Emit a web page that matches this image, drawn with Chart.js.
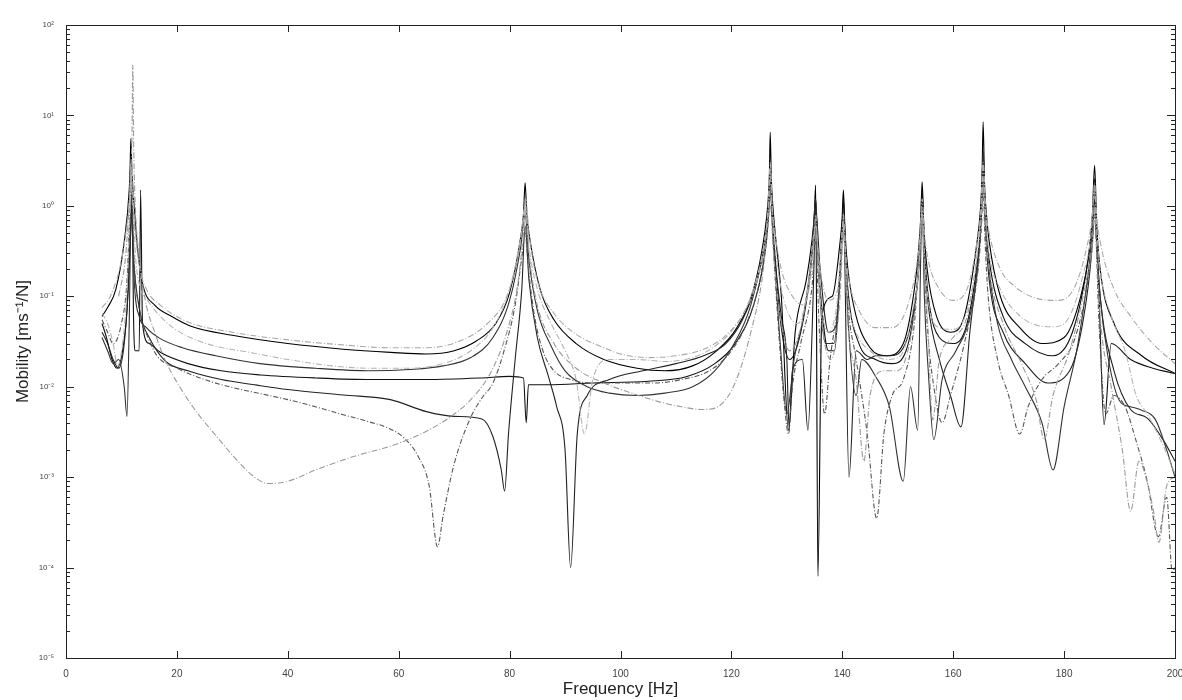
<!DOCTYPE html>
<html>
<head>
<meta charset="utf-8">
<script src="https://cdn.jsdelivr.net/npm/chart.js@4"></script>
<style>
  body { margin:0; background:#fff; }
  #wrap { position:relative; width:1182px; height:700px; }
</style>
</head>
<body>
<div id="wrap"><canvas id="c"></canvas></div>
<script>
// tick labels
const xTicks = [0, 20, 40, 60, 80, 100, 120, 140, 160, 180, 200];
const yTicks = [1e-5, 1e-4, 1e-3, 1e-2, 1e-1, 1, 1e1, 1e2];
const supers = {'-':'⁻','0':'⁰','1':'¹','2':'²','3':'³','4':'⁴','5':'⁵'};

// series: [frequency Hz, mobility]
const s1 = [[6.5,0.075],[8,0.1],[10,0.25],[11.2,0.8],[11.5,1.3],[11.7,3],[11.9,1.4],[12.3,0.7],[13.2,0.22],[14.5,0.12],[17,0.08],[22,0.052],[30,0.04],[40,0.033],[50,0.029],[58,0.027],[65,0.027],[71,0.032],[76,0.05],[79.5,0.1],[81.5,0.28],[82.5,0.7],[82.9,1.2],[83.5,0.5],[85,0.15],[88,0.065],[92,0.038],[97,0.027],[100,0.023],[105,0.021],[110,0.022],[115,0.026],[119,0.037],[122.5,0.07],[125,0.18],[126.4,0.6],[126.8,1.2],[127,2.5],[127.25,1.2],[127.7,0.6],[129,0.2],[131,0.1],[133,0.08],[134.5,0.2],[134.9,0.4],[135.2,0.8],[135.5,0.4],[136,0.2],[137.5,0.09],[139.2,0.12],[139.8,0.3],[140.2,0.8],[140.6,0.3],[141.2,0.15],[143,0.07],[146,0.045],[149,0.045],[151.5,0.07],[153.3,0.2],[154,0.45],[154.4,1.2],[154.8,0.5],[155.5,0.25],[157.5,0.12],[160,0.09],[162.5,0.12],[164.3,0.4],[165,0.9],[165.4,3],[165.8,1],[166.5,0.5],[168.5,0.2],[171,0.13],[175,0.095],[179,0.09],[182,0.13],[184.3,0.4],[185.1,0.8],[185.5,1.8],[185.9,0.75],[186.7,0.35],[189,0.12],[192,0.06],[196,0.03],[200,0.018]];

const s2 = [[6.5,0.06],[7.5,0.075],[9,0.12],[10.5,0.4],[11.4,1.5],[11.55,2.5],[11.7,5.5],[11.9,2.3],[12.2,1.2],[13,0.3],[13.9,0.13],[16,0.08],[19,0.06],[22.4,0.047],[30,0.037],[40,0.03],[50,0.026],[58.5,0.024],[65,0.023],[70,0.025],[74,0.032],[77.5,0.05],[80,0.11],[82,0.45],[82.5,0.8],[82.8,1.8],[83.1,0.8],[83.6,0.45],[85.5,0.12],[88,0.055],[92,0.03],[97,0.02],[103,0.016],[108,0.015],[113,0.017],[117,0.024],[121,0.045],[124,0.12],[126,0.5],[126.6,1.1],[126.85,2.2],[127,6.5],[127.2,2],[127.5,0.95],[127.9,0.5],[129,0.1],[130.3,0.0033],[131.5,0.04],[133.5,0.15],[134.5,0.4],[134.95,0.8],[135.2,1.7],[135.6,0.00008],[136.3,0.06],[138.2,0.1],[139.6,0.4],[139.95,0.7],[140.2,1.5],[140.5,0.5],[141,0.2],[142.5,0.06],[145,0.027],[148,0.022],[151,0.03],[153,0.12],[153.8,0.35],[154.15,0.75],[154.4,1.85],[154.7,0.6],[155.3,0.2],[157,0.06],[159.5,0.04],[162,0.06],[164.3,0.4],[164.9,0.9],[165.2,2.2],[165.4,8.5],[165.65,1.8],[166,0.8],[166.5,0.4],[168.5,0.1],[172,0.045],[176,0.03],[180,0.035],[183,0.1],[184.5,0.3],[185.1,0.8],[185.5,2.8],[185.9,0.6],[186.5,0.2],[189,0.05],[194,0.022],[200,0.014]];

const s3 = [[6.5,0.05],[7.3,0.035],[8.3,0.02],[9.2,0.016],[10.2,0.025],[11,0.07],[11.6,0.4],[11.9,1.2],[12.2,0.05],[12.5,0.025],[13.2,0.025],[13.45,1.5],[13.8,0.05],[15,0.03],[17,0.024],[22,0.018],[28,0.015],[35,0.0135],[45,0.0125],[55,0.012],[65,0.012],[75,0.0125],[80,0.013],[82.5,0.0125],[83,0.004],[83.4,0.0105],[87,0.0105],[95,0.011],[105,0.0115],[112,0.013],[117,0.018],[121,0.032],[124,0.08],[126.2,0.35],[126.7,0.8],[127,2],[127.35,0.7],[127.8,0.3],[129,0.045],[130.5,0.02],[132.5,0.04],[134.3,0.2],[134.85,0.5],[135.2,1.2],[135.5,0.35],[136,0.12],[137.5,0.025],[138.6,0.025],[139.6,0.2],[139.95,0.5],[140.2,1.2],[140.55,0.35],[141,0.12],[143,0.03],[146,0.02],[149,0.018],[151.5,0.025],[153.3,0.1],[154,0.35],[154.4,1.5],[154.8,0.35],[155.5,0.1],[157.5,0.035],[160,0.03],[162.5,0.05],[164.5,0.3],[165.1,0.9],[165.4,4],[165.8,0.7],[166.5,0.25],[169,0.06],[173,0.03],[178,0.022],[181.5,0.04],[184.3,0.25],[185.1,0.7],[185.5,2],[185.8,0.5],[186.3,0.1],[187.2,0.0038],[188.5,0.03],[192,0.02],[196,0.016],[200,0.014]];

const s4 = [[9.5,0.1],[10.8,0.3],[11.6,2],[11.9,6],[12.05,36],[12.2,5],[12.5,1],[13.3,0.25],[14.3,0.09],[16,0.04],[18,0.019],[20.5,0.01],[23.5,0.0053],[27,0.0029],[31,0.0015],[34,0.001],[36.5,0.00085],[40,0.0009],[45,0.0012],[52,0.0017],[58.5,0.0022],[64,0.003],[69,0.0045],[73,0.0072],[76.5,0.014],[79.5,0.04],[81.5,0.14],[82.5,0.5],[82.9,0.9],[83.5,0.3],[85,0.08],[88,0.03],[92,0.016],[97,0.011],[102,0.0085],[107,0.0068],[111,0.006],[114.5,0.0056],[117,0.0058],[119.5,0.008],[121.5,0.015],[123.5,0.04],[125.5,0.15],[126.6,0.6],[127,1],[127.6,0.3],[128.8,0.06],[130.5,0.025],[132.5,0.045],[134.5,0.25],[135.2,0.6],[136.2,0.06],[138,0.02],[139.6,0.1],[140.2,0.5],[141,0.05],[142.5,0.012],[143.9,0.0015],[145,0.008],[147.5,0.015],[150,0.015],[152.5,0.04],[153.8,0.2],[154.4,0.8],[154.8,0.2],[155.4,0.05],[156.3,0.0043],[157.5,0.02],[160,0.035],[162.5,0.06],[164.5,0.35],[165.1,0.8],[165.4,2],[165.8,0.6],[166.5,0.2],[169,0.05],[172.5,0.017],[175,0.007],[176.4,0.0026],[178,0.008],[181,0.025],[184,0.15],[185.1,0.4],[185.5,1],[185.9,0.3],[186.5,0.06],[188.5,0.01],[190.5,0.002],[192,0.00042],[193.5,0.0015],[195,0.00087],[196.2,0.0004],[197.1,0.00019],[198.5,0.0008],[200,0.001]];

const s5 = [[6.5,0.04],[7.5,0.03],[8.5,0.02],[9.5,0.016],[10.5,0.03],[11.2,0.12],[11.7,0.8],[12.3,0.2],[13.5,0.06],[15,0.035],[18,0.019],[22,0.015],[28,0.012],[34,0.0105],[40,0.0093],[50,0.0081],[58.5,0.0072],[65,0.0053],[70,0.0047],[75,0.0044],[77,0.0028],[78.5,0.0012],[79.1,0.0007],[79.8,0.003],[81,0.02],[82.2,0.12],[82.8,0.6],[83.5,0.15],[85,0.035],[87,0.013],[88.5,0.006],[90,0.002],[91,0.0001],[92.2,0.003],[94,0.008],[98,0.012],[104,0.015],[110,0.018],[115,0.022],[119,0.03],[122,0.055],[124.5,0.14],[126.3,0.5],[126.75,1],[127,2.5],[127.35,0.9],[127.8,0.3],[129,0.06],[130,0.02],[130.4,0.0035],[131,0.015],[132.8,0.02],[133.8,0.0033],[134.6,0.05],[134.95,0.3],[135.2,0.9],[136,0.2],[137.5,0.04],[139,0.05],[140.2,0.7],[141.2,0.001],[142.5,0.025],[144.5,0.02],[146,0.022],[148.5,0.022],[151,0.027],[153,0.08],[154,0.3],[154.4,1.1],[154.8,0.3],[155.5,0.08],[157.5,0.02],[159.5,0.008],[161.4,0.0036],[163,0.04],[164.6,0.3],[165.1,0.9],[165.4,2.5],[165.8,0.6],[166.5,0.15],[169,0.04],[173,0.018],[177,0.011],[181,0.015],[184,0.09],[185.1,0.4],[185.5,1.2],[185.9,0.35],[186.5,0.1],[189,0.015],[192,0.0056],[195,0.0045],[198,0.0025],[200,0.0015]];

const s6 = [[6.5,0.055],[7.5,0.04],[8.5,0.03],[10,0.05],[11,0.15],[11.5,0.8],[11.8,2],[12.3,0.25],[13.5,0.06],[14.8,0.035],[16.4,0.022],[20,0.016],[25,0.012],[30,0.0098],[35,0.0084],[40,0.0072],[45,0.006],[50,0.0049],[54,0.0042],[58.5,0.0034],[61,0.0027],[63.5,0.0017],[65.5,0.0008],[67,0.00017],[68,0.00037],[70,0.0014],[73,0.0046],[75,0.0075],[77,0.011],[79,0.025],[81,0.08],[82.3,0.3],[82.8,0.5],[83.4,0.2],[84.5,0.06],[86,0.025],[88,0.015],[91,0.012],[95,0.011],[100,0.011],[106,0.011],[111,0.012],[116,0.015],[120,0.025],[123,0.055],[125.5,0.2],[126.6,0.8],[127,1.5],[127.7,0.25],[128.6,0.035],[129.6,0.006],[130.3,0.003],[131,0.01],[132.5,0.03],[134.5,0.12],[135.2,0.4],[135.8,0.05],[136.8,0.005],[137.8,0.02],[139.5,0.12],[140.2,0.5],[141,0.08],[142.5,0.02],[144.5,0.003],[146.2,0.00035],[147.5,0.003],[149,0.008],[151,0.012],[153,0.05],[154.4,0.7],[155.3,0.05],[156.5,0.01],[158,0.004],[159.5,0.008],[162,0.03],[164.5,0.2],[165.1,0.6],[165.4,1.5],[165.75,0.4],[166.3,0.1],[168,0.02],[170,0.008],[172,0.003],[173.5,0.006],[176,0.012],[179,0.018],[182,0.035],[184.5,0.18],[185.15,0.4],[185.5,0.8],[186.3,0.05],[187.5,0.005],[189,0.008],[191,0.006],[193,0.0025],[195,0.0009],[197,0.00022],[198.5,0.0006],[199.5,0.00009],[200,0.0001]];

const s7 = [[6.5,0.065],[7.5,0.05],[8.5,0.03],[9.3,0.017],[10.2,0.03],[11,0.12],[11.6,1],[11.9,2.5],[12.5,0.3],[13.5,0.12],[14.7,0.09],[17,0.06],[20,0.042],[24,0.032],[27,0.028],[33,0.024],[40,0.02],[48,0.017],[55,0.016],[62,0.016],[68,0.018],[73,0.025],[77,0.045],[80,0.12],[82,0.45],[82.8,1],[83.5,0.35],[85,0.12],[87.5,0.05],[90,0.025],[92,0.012],[93.5,0.003],[95,0.012],[98,0.02],[103,0.02],[108,0.019],[113,0.021],[117,0.028],[120.5,0.045],[123.5,0.1],[125.8,0.35],[126.6,0.9],[127,3],[127.35,1],[127.8,0.4],[129,0.12],[130.5,0.06],[132,0.05],[133.8,0.12],[135.2,0.6],[136,0.1],[137.5,0.04],[139,0.08],[140.2,0.6],[141,0.1],[142.5,0.04],[145,0.025],[148,0.02],[150.5,0.022],[152.5,0.06],[153.9,0.25],[154.4,0.9],[154.8,0.3],[155.5,0.09],[157.5,0.045],[160,0.043],[162.5,0.07],[164.5,0.35],[165.05,1],[165.4,3],[165.8,0.9],[166.5,0.3],[168.5,0.12],[171.5,0.065],[175,0.048],[178,0.046],[181,0.06],[183.5,0.18],[184.8,0.45],[185.5,1.5],[185.9,0.55],[186.5,0.2],[188.5,0.06],[191,0.025],[193,0.008],[195,0.005],[197.5,0.0025],[200,0.0011]];

const s8 = [[6.5,0.035],[7.5,0.025],[8.5,0.018],[9.5,0.02],[10.5,0.01],[11,0.0047],[11.4,0.05],[11.8,1.5],[12.3,0.15],[13.2,0.06],[14.5,0.045],[17,0.034],[21,0.027],[27,0.022],[35,0.018],[45,0.016],[55,0.015],[62,0.0155],[68,0.017],[73,0.021],[77,0.035],[80,0.09],[82,0.35],[82.8,0.8],[83.5,0.25],[85,0.07],[87.5,0.028],[90,0.015],[94,0.01],[98,0.0085],[103,0.008],[108,0.0085],[113,0.01],[117,0.015],[120.5,0.03],[123.5,0.08],[126,0.4],[126.6,0.8],[127,2],[127.35,0.7],[127.8,0.25],[128.8,0.03],[130,0.005],[131.3,0.02],[133,0.06],[134.6,0.35],[135.2,1.2],[135.8,0.15],[137,0.03],[138.5,0.03],[139.7,0.25],[140.2,0.9],[141,0.06],[142.5,0.008],[143.5,0.02],[146,0.013],[148.5,0.006],[151,0.0009],[152.3,0.01],[153.6,0.0033],[154.1,0.2],[154.4,1.2],[154.8,0.1],[155.5,0.015],[156.5,0.0026],[158,0.012],[160.5,0.025],[163,0.06],[164.8,0.4],[165.15,1.2],[165.4,4],[165.75,0.8],[166.3,0.25],[168,0.05],[170.5,0.02],[173,0.01],[176,0.004],[178,0.0012],[180,0.006],[182.5,0.03],[184.6,0.25],[185.2,0.7],[185.5,1.8],[185.85,0.45],[186.5,0.1],[188,0.02],[190,0.007],[192,0.006],[194,0.0055],[196.5,0.0043],[198.5,0.002],[200,0.001]];

const series = [
  {d:s1, c:'#a8a8a8', dash:[6,2,1,2]},
  {d:s7, c:'#b4b4b4', dash:[6,2,1,2]},
  {d:s4, c:'#9a9a9a', dash:[6,2,1,2]},
  {d:s6, c:'#555555', dash:[5,2,1,2]},
  {d:s8, c:'#333333', dash:[]},
  {d:s5, c:'#222222', dash:[]},
  {d:s3, c:'#111111', dash:[]},
  {d:s2, c:'#000000', dash:[]},
];

const font = "'Liberation Sans', Arial, sans-serif";

const boxTicks = {
  id: 'boxTicks',
  afterDraw(c) {
    const {ctx, chartArea: a, scales: {x, y}} = c;
    ctx.save();
    ctx.strokeStyle = '#222';
    ctx.lineWidth = 1;
    ctx.strokeRect(Math.round(a.left) + 0.5, Math.round(a.top) + 0.5, Math.round(a.right - a.left), Math.round(a.bottom - a.top));
    ctx.beginPath();
    xTicks.forEach(v => {
      const px = Math.round(x.getPixelForValue(v)) + 0.5;
      ctx.moveTo(px, a.bottom); ctx.lineTo(px, a.bottom - 7);
      ctx.moveTo(px, a.top); ctx.lineTo(px, a.top + 7);
    });
    yTicks.forEach(v => {
      for (let k = 1; k <= 9; k++) {
        const val = v * k;
        if (val > 100.0001) break;
        const py = Math.round(y.getPixelForValue(val)) + 0.5;
        const len = k === 1 ? 8 : 4;
        ctx.moveTo(a.left, py); ctx.lineTo(a.left + len, py);
        ctx.moveTo(a.right, py); ctx.lineTo(a.right - len, py);
      }
    });
    ctx.stroke();
    ctx.restore();
  }
};

new Chart(document.getElementById('c'), {
  type: 'line',
  data: {
    datasets: series.map((s, i) => ({
      label: 'FRF ' + (i + 1),
      data: s.d.map(p => ({x: p[0], y: p[1]})),
      borderColor: s.c,
      borderWidth: 1.1,
      borderDash: s.dash,
      pointRadius: 0,
      fill: false,
      cubicInterpolationMode: 'monotone',
    }))
  },
  options: {
    responsive: true,
    maintainAspectRatio: false,
    animation: false,
    events: [],
    layout: { padding: { top: 25, right: 7, left: 0, bottom: 0 } },
    plugins: { legend: { display: false }, tooltip: { enabled: false } },
    scales: {
      x: {
        type: 'linear',
        min: 0, max: 200,
        afterBuildTicks: s => { s.ticks = xTicks.map(v => ({value: v})); },
        afterFit: s => { s.height = 42; s.paddingRight = 0; s.paddingLeft = 0; },
        grid: { display: false },
        border: { display: false },
        ticks: { color: '#444', font: { family: font, size: 10 }, padding: 2, maxRotation: 0, autoSkip: false },
        title: { display: true, text: 'Frequency [Hz]', color: '#222', font: { family: font, size: 17 }, padding: { top: 0, bottom: 0 } }
      },
      y: {
        type: 'logarithmic',
        min: 1e-5, max: 1e2,
        afterBuildTicks: s => { s.ticks = yTicks.map(v => ({value: v})); },
        afterFit: s => { s.width = 66; },
        grid: { display: false },
        border: { display: false },
        ticks: {
          color: '#444', font: { family: font, size: 8 }, padding: 4, autoSkip: false,
          callback: v => '10' + String(Math.round(Math.log10(v))).split('').map(ch => supers[ch]).join('')
        },
        title: { display: true, text: 'Mobility [ms⁻¹/N]', color: '#222', font: { family: font, size: 17 }, padding: { top: 13, bottom: 0 } }
      }
    }
  },
  plugins: [boxTicks]
});
</script>
</body>
</html>
